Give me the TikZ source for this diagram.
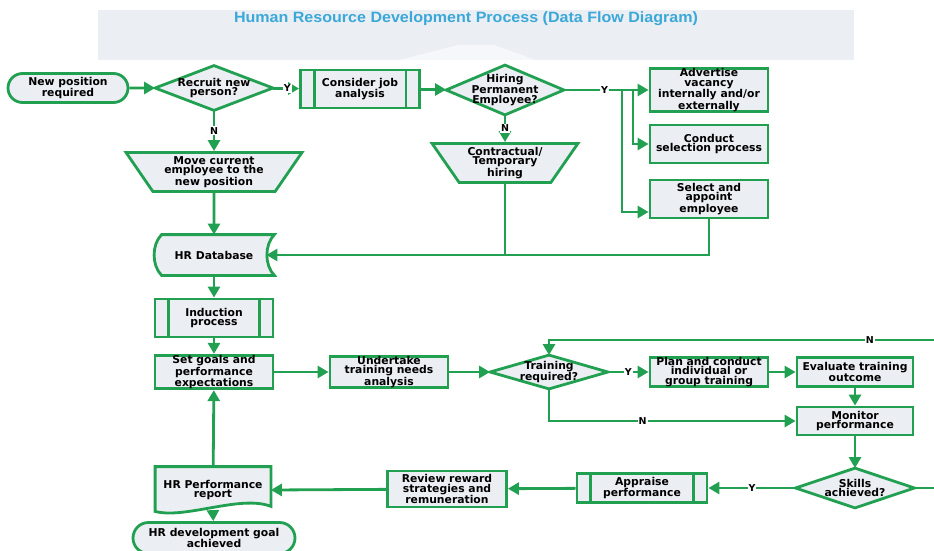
\documentclass[tikz,border=0pt]{standalone}
\usepackage{fontspec}
\usepackage{graphicx}
\usetikzlibrary{arrows.meta, positioning, shapes.geometric, shapes.misc, backgrounds}
\newfontfamily\boxfont{DejaVu Sans}
\newfontfamily\titlefont{Liberation Sans}
\definecolor{hrgreen}{HTML}{22A052}
\definecolor{boxfill}{HTML}{EBEEF3}
\definecolor{banner}{HTML}{EBEEF3}
\definecolor{titleblue}{HTML}{3AA8D8}

\begin{document}
\begin{tikzpicture}[x=1pt, y=-1pt,
    base/.style={draw=hrgreen, line width=2.8pt, fill=boxfill, align=center, inner sep=0pt,
                 font=\boxfont\bfseries\fontsize{10.8}{9.5}\selectfont},
    proc/.style={base, rectangle, minimum width=118pt, minimum height=29pt},
    term/.style={base, rounded rectangle, minimum width=120pt, minimum height=29pt},
    io/.style={base, trapezium, trapezium angle=55, trapezium stretches=true,
               shape border rotate=180, minimum height=39pt},
    dec/.style={base, draw=none, fill=none, minimum width=115pt, minimum height=42pt},
    outline/.style={draw=hrgreen, line width=2.8pt, fill=boxfill},
    flow/.style={draw=hrgreen, line width=2.8pt, -{Triangle[length=11pt, width=12pt]}},
    link/.style={draw=hrgreen, line width=2.8pt},
    yn/.style={fill=white, inner sep=1pt, font=\boxfont\bfseries\fontsize{9.5}{9.5}\selectfont}
  ]
  \useasboundingbox (0,0) rectangle (934,551);
  \clip (0,0) rectangle (934,551);

  % title banner
  \fill[banner] (98,10) rectangle (854,60);
  \fill[white!55!banner] (399,60) -- (458,45) -- (494,45) -- (536,60) -- cycle;
  \node[text=titleblue] (title) at (466,19)
    {\resizebox*{464pt}{14pt}{\titlefont\bfseries Human Resource Development Process (Data Flow Diagram)}};

  % recruitment
  \node[term] (start) at (68,88) {New position\\required};
  \node[dec] (recruit) at (214,88) {Recruit new\\person?};
  \node[proc, minimum width=119pt, minimum height=38pt] (job) at (360,89) {Consider job\\analysis};
  \node[dec, minimum height=47pt] (hiring) at (505,90) {Hiring\\Permanent\\Employee?};
  \node[io, minimum width=146pt] (contract) at (505,163) {Contractual/\\Temporary\\hiring};
  \node[io, minimum width=176pt] (move) at (214,172) {Move current\\employee to the\\new position};
  \node[proc, minimum height=38pt] (advert) at (709,90) {Advertise\\vacancy\\internally and/or\\externally};
  \node[proc, minimum height=38pt] (conduct) at (709,144) {Conduct\\selection process};
  \node[proc, minimum height=38pt] (select) at (709,199) {Select and\\appoint\\employee};

  % induction and training
  \node[dec, minimum width=118pt, minimum height=38pt] (db) at (214,255) {HR Database};
  \node[proc, minimum height=38pt] (induct) at (214,318) {Induction\\process};
  \node[proc] (goals) at (214,372) {Set goals and\\performance\\expectations};
  \node[proc] (undertake) at (389,372) {Undertake\\training needs\\analysis};
  \node[dec, minimum height=31pt] (training) at (549,372) {Training\\required?};
  \node[proc] (plan) at (709,372) {Plan and conduct\\individual or\\group training};
  \node[proc, minimum width=116pt] (evaluate) at (855,372) {Evaluate training\\outcome};
  \node[proc, minimum width=116pt, minimum height=28pt] (monitor) at (855,421) {Monitor\\performance};

  % appraisal
  \node[dec, minimum width=116pt, minimum height=37pt] (skills) at (855,488) {Skills\\achieved?};
  \node[proc, minimum width=130pt] (appraise) at (642,488) {Appraise\\performance};
  \node[proc, minimum width=119pt, minimum height=36pt] (review) at (447,489) {Review reward\\strategies and\\remuneration};
  \node[dec, minimum width=113pt, minimum height=44pt] (report) at (213,490) {HR Performance\\report};
  \node[term, minimum width=162pt, minimum height=31pt] (final) at (214,538) {HR development goal\\achieved};

  % outlines drawn behind the texts
  \begin{scope}[on background layer]
    \foreach \d in {recruit,hiring,training,skills}
      \draw[outline] (\d.north) -- (\d.east) -- (\d.south) -- (\d.west) -- cycle;
    \draw[outline] ([xshift=8]db.north west) -- (db.north east)
      .. controls +(-10,10) and +(-10,-10) .. (db.south east)
      -- ([xshift=8]db.south west)
      .. controls +(-10,-10) and +(-10,10) .. ([xshift=8]db.north west) -- cycle;
    \draw[outline] (report.north west) -- (report.north east) -- ([yshift=7]report.south east)
      .. controls +(-30,-12) and +(30,8) .. ([yshift=2]report.south west) -- cycle;
  \end{scope}
  \foreach \p in {job,induct,appraise} {
    \draw[link] ([xshift=15]\p.north west) -- ([xshift=15]\p.south west);
    \draw[link] ([xshift=-15]\p.north east) -- ([xshift=-15]\p.south east);
  }

  \coordinate (ya) at (622,90);
  \coordinate (yb) at (633,90);
  \coordinate (loop) at (950,340);

  \draw[flow] (start) -- (recruit);
  \draw[flow] (recruit) -- node[yn, pos=0.55] {Y} (job);
  \draw[flow] (recruit) -- node[yn] {N} (move);
  \draw[flow] (job) -- (hiring);
  \draw[flow] (hiring) -- node[yn] {N} (contract);
  \draw[flow] (hiring) -- node[yn, pos=0.48] {Y} (advert);
  \draw[flow] (yb) |- (conduct);
  \draw[flow] (ya) |- ([yshift=-13]select.west);
  \draw[flow] (select.south) |- ([xshift=-8]db.east);
  \draw[link] (contract.south) -- (contract.south |- db.east);
  \draw[flow] (move) -- (db);
  \draw[flow] (db) -- (induct);
  \draw[flow] (induct) -- (goals);
  \draw[flow] (goals) -- (undertake);
  \draw[flow] (undertake) -- (training);
  \draw[flow] (training) -- node[yn] {Y} (plan);
  \draw[flow] (plan) -- (evaluate);
  \draw[flow] (evaluate) -- (monitor);
  \draw[flow] (training.south) |- node[yn, pos=0.69] {N} (monitor.west);
  \draw[flow] (monitor) -- (skills);
  \draw[flow] (skills) -- node[yn] {Y} (appraise);
  \draw[flow] (skills.east) -| (loop) -| node[yn, pos=0.1] {N} (training.north);
  \draw[flow] (appraise) -- (review);
  \draw[flow] (review) -- (report.east);
  \draw[flow] (report) -- (goals);
  \draw[flow] (report.south) -- (final);
\end{tikzpicture}
\end{document}
